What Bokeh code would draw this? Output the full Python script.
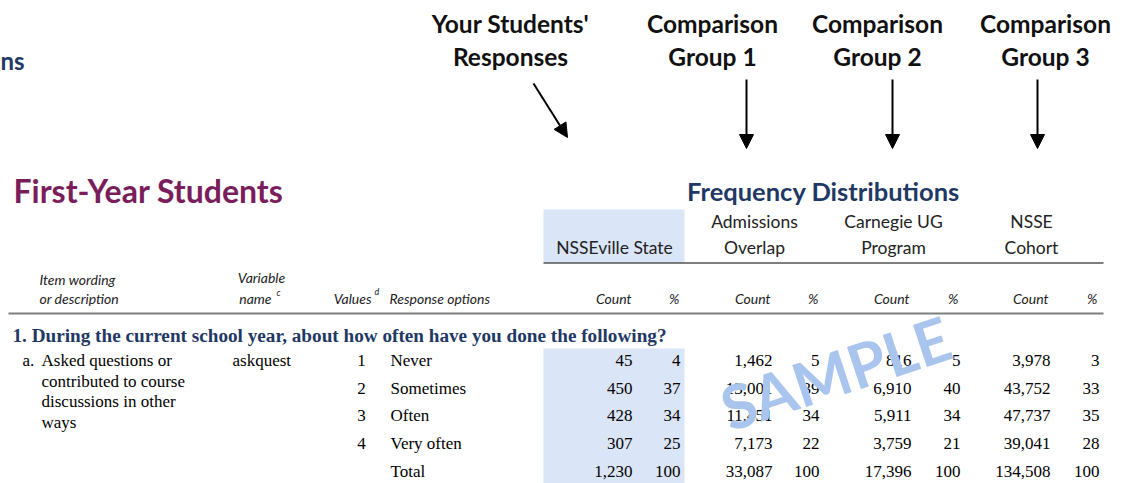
from bokeh.plotting import figure
from bokeh.models import Range1d, Arrow, NormalHead, ColumnDataSource
from bokeh.core.properties import value
from bokeh.embed import file_html
from bokeh.resources import INLINE

# ---------------- data ----------------
group_titles = ["Your Students'\nResponses", "Comparison\nGroup 1", "Comparison\nGroup 2", "Comparison\nGroup 3"]
column_headers = ["NSSEville State", "Admissions\nOverlap", "Carnegie UG\nProgram", "NSSE\nCohort"]
question = "1. During the current school year, about how often have you done the following?"
item_lines = ["Asked questions or", "contributed to course", "discussions in other", "ways"]
variable_name = "askquest"
values_codes = ["1", "2", "3", "4", ""]
response_options = ["Never", "Sometimes", "Often", "Very often", "Total"]

nsseville_count = [45, 450, 428, 307, 1230]
nsseville_pct = [4, 37, 34, 25, 100]
admissions_count = [1462, 13001, 11451, 7173, 33087]
admissions_pct = [5, 39, 34, 22, 100]
carnegie_count = [816, 6910, 5911, 3759, 17396]
carnegie_pct = [5, 40, 34, 21, 100]
nsse_count = [3978, 43752, 47737, 39041, 134508]
nsse_pct = [3, 33, 35, 28, 100]

# ---------------- figure ----------------
W, H = 1126, 483
p = figure(width=W, height=H, x_range=Range1d(0, W), y_range=Range1d(H, 0),
           output_backend="svg", toolbar_location=None, min_border=0,
           x_axis_type=None, y_axis_type=None)
p.grid.visible = False
p.outline_line_color = None
p.background_fill_color = "white"

NAVY = "#1F3864"
MAROON = "#7A1E5B"
SHADE = "#DAE5F7"
SANS = "Lato"
SERIF = "Liberation Serif"


def txt(x, y, s, size, font=SANS, style="normal", color="#000000", align="left", angle=0, alpha=1.0):
    src = ColumnDataSource(dict(x=list(x), y=list(y), t=list(s)))
    p.text(x="x", y="y", text="t", source=src, text_font=value(font), text_font_size=f"{size}px",
           text_font_style=style, text_color=color, text_align=align, text_baseline="middle",
           angle=angle, text_alpha=alpha)


# shaded column for the institution
p.quad(left=[543, 543], right=[684, 684], top=[209, 348], bottom=[262, 490],
       fill_color=SHADE, line_color=None)

# cut-off title at top-left
txt([0], [60], ["ns"], 24, style="bold", color=NAVY)

# group titles
gx = [510, 712, 877, 1045]
for cx, t in zip(gx, group_titles):
    l1, l2 = t.split("\n")
    txt([cx, cx], [23, 56], [l1, l2], 24.5, style="bold", color="#111111", align="center")

# arrows
head = dict(size=14, fill_color="black", line_color="black")
p.add_layout(Arrow(end=NormalHead(**head), x_start=533, y_start=83, x_end=567, y_end=137,
                   line_width=2, line_color="black"))
for ax in [746, 892, 1037]:
    p.add_layout(Arrow(end=NormalHead(**head), x_start=ax, y_start=79, x_end=ax, y_end=148,
                       line_width=2, line_color="black"))

# section titles
txt([13], [190], ["First-Year Students"], 32, style="bold", color=MAROON)
txt([823], [190], ["Frequency Distributions"], 25.5, style="bold", color=NAVY, align="center")

# column headers
hx = [614, 754, 893, 1031]
for cx, t in zip(hx, column_headers):
    parts = t.split("\n")
    if len(parts) == 1:
        txt([cx], [247], parts, 17.5, color="#222222", align="center")
    else:
        txt([cx, cx], [221, 247], parts, 17.5, color="#222222", align="center")

# lines
p.line(x=[543, 1103], y=[262.5, 262.5], line_color="black", line_width=1.2)
p.line(x=[8, 1103], y=[313, 313], line_color="#7F7F7F", line_width=2)

# small italic header row
IS = 14
txt([39, 39], [279, 298], ["Item wording", "or description"], IS, style="italic", color="#222222")
txt([261], [277], ["Variable"], IS, style="italic", color="#222222", align="center")
txt([271], [298], ["name"], IS, style="italic", color="#222222", align="right")
txt([276], [292], ["c"], 9, style="italic", color="#222222")
txt([371], [298], ["Values"], IS, style="italic", color="#222222", align="right")
txt([374], [291], ["d"], 9, style="italic", color="#222222")
txt([389], [298], ["Response options"], IS, style="italic", color="#222222")
count_hdr_right = [631, 770, 909, 1048]
pct_hdr_right = [679, 818, 958, 1097]
txt(count_hdr_right, [298] * 4, ["Count"] * 4, IS, style="italic", color="#222222", align="right")
txt(pct_hdr_right, [298] * 4, ["%"] * 4, IS, style="italic", color="#222222", align="right")

# question
txt([12], [335], [question], 19.2, font=SERIF, style="bold", color=NAVY)

# item text
FS = 17
txt([22], [360], ["a."], FS, font=SERIF)
txt([41] * 4, [360, 381, 401, 422], item_lines, FS, font=SERIF)
txt([232], [360], [variable_name], FS, font=SERIF)

row_y = [360 + i * 27.7 for i in range(len(response_options))]
txt([361] * 5, row_y, values_codes, FS, font=SERIF, align="center")
txt([390] * 5, row_y, response_options, FS, font=SERIF)

num_right_c = [632, 772, 911, 1050]
num_right_p = [680, 819, 960, 1099]
series = [(nsseville_count, nsseville_pct), (admissions_count, admissions_pct),
          (carnegie_count, carnegie_pct), (nsse_count, nsse_pct)]
for (cnt, pct), xc, xp in zip(series, num_right_c, num_right_p):
    txt([xc] * 5, row_y, [f"{v:,}" for v in cnt], FS, font=SERIF, align="right")
    txt([xp] * 5, row_y, [str(v) for v in pct], FS, font=SERIF, align="right")

# watermark
txt([835], [372], ["SAMPLE"], 61, style="bold", color="#A9C5EE", align="center", angle=0.32)

open("out.html", "w").write(file_html(p, INLINE))
